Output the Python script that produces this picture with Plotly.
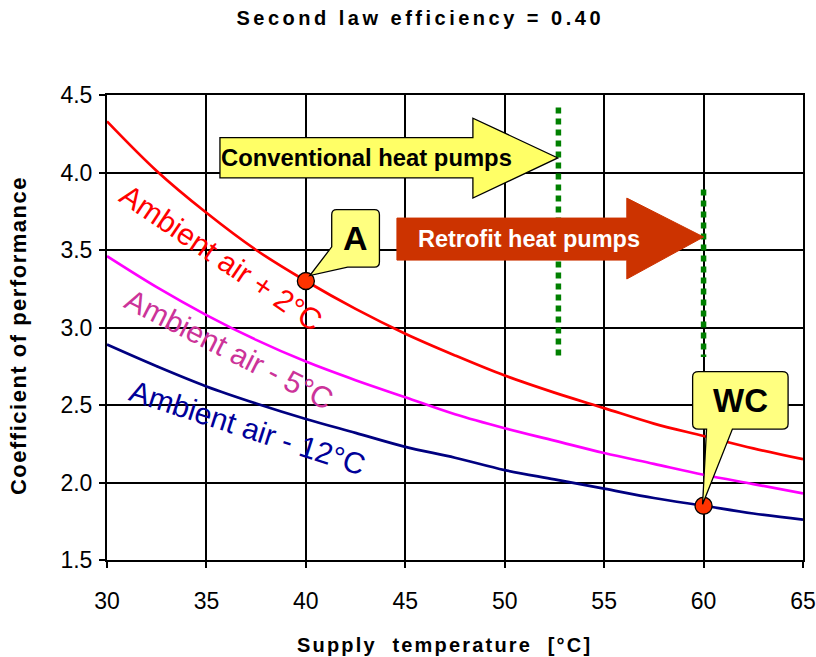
import plotly.graph_objects as go

# ---- data ----
supply_temp = [30, 32.5, 35, 37.5, 40, 42.5, 45, 47.5, 50, 52.5, 55, 57.5, 60, 62.5, 65]
cop_plus2 = [4.33, 4.01, 3.74, 3.50, 3.30, 3.12, 2.96, 2.82, 2.69, 2.58, 2.48, 2.38, 2.30, 2.22, 2.15]
cop_minus5 = [3.46, 3.26, 3.08, 2.92, 2.78, 2.66, 2.55, 2.44, 2.35, 2.27, 2.19, 2.12, 2.05, 1.99, 1.93]
cop_minus12 = [2.89, 2.75, 2.62, 2.51, 2.41, 2.32, 2.23, 2.16, 2.08, 2.02, 1.96, 1.90, 1.85, 1.80, 1.76]
series_names = ["Ambient air + 2°C", "Ambient air - 5°C", "Ambient air - 12°C"]
point_labels = ["A", "WC"]
point_x = [40, 60]
point_y = [3.30, 1.85]
x_ticks = [30, 35, 40, 45, 50, 55, 60, 65]
y_ticks = [1.5, 2.0, 2.5, 3.0, 3.5, 4.0, 4.5]
conventional_limit = 52.7
retrofit_limit = 60.0

line_colors = ["#FF0000", "#FF00FF", "#000080"]
label_colors = ["#FF0000", "#CC3399", "#000099"]

FONT = "Arial, Liberation Sans, sans-serif"

fig = go.Figure()
for ys, c, n in zip([cop_plus2, cop_minus5, cop_minus12], line_colors, series_names):
    fig.add_trace(go.Scatter(x=supply_temp, y=ys, mode="lines", name=n,
                             line=dict(color=c, width=2.7, shape="spline"),
                             showlegend=False, hoverinfo="skip"))

# green dotted limit lines
fig.add_trace(go.Scatter(x=[conventional_limit, conventional_limit], y=[4.42, 2.79], mode="lines",
                         line=dict(color="#008000", width=5.5, dash="6px,5px"), showlegend=False, hoverinfo="skip"))
fig.add_trace(go.Scatter(x=[retrofit_limit, retrofit_limit], y=[3.89, 2.81], mode="lines",
                         line=dict(color="#008000", width=5.5, dash="6px,5px"), showlegend=False, hoverinfo="skip"))

def poly(pts):
    return "M " + " L ".join(f"{x},{y}" for x, y in pts) + " Z"

shapes = []
# Yellow arrow: Conventional heat pumps
shapes.append(dict(type="path", xref="x", yref="y", layer="above",
                   path=poly([(35.68, 4.225), (48.4, 4.225), (48.4, 4.35), (52.67, 4.094),
                              (48.4, 3.835), (48.4, 3.965), (35.68, 3.965)]),
                   fillcolor="#FFFF66", line=dict(color="black", width=1.3)))
# Red arrow: Retrofit heat pumps
shapes.append(dict(type="path", xref="x", yref="y", layer="above",
                   path=poly([(44.58, 3.706), (56.14, 3.706), (56.14, 3.835), (60.0, 3.584),
                              (56.14, 3.313), (56.14, 3.435), (44.58, 3.435)]),
                   fillcolor="#CC3300", line=dict(color="#CC3300", width=1)))


def callout(x0, x1, y0, y1, rx, ry, tail, side):
    a, tip, b = tail
    p = [f"M {x0+rx},{y1}", f"L {x1-rx},{y1}", f"Q {x1},{y1} {x1},{y1-ry}",
         f"L {x1},{y0+ry}", f"Q {x1},{y0} {x1-rx},{y0}"]
    if side == "bottom":
        p += [f"L {b[0]},{b[1]}", f"L {tip[0]},{tip[1]}", f"L {a[0]},{a[1]}",
              f"L {x0+rx},{y0}", f"Q {x0},{y0} {x0},{y0+ry}"]
    else:
        p += [f"L {b[0]},{b[1]}", f"L {tip[0]},{tip[1]}", f"L {a[0]},{a[1]}"]
    p += [f"L {x0},{y1-ry}", f"Q {x0},{y1} {x0+rx},{y1}", "Z"]
    return " ".join(p)

shapes.append(dict(type="path", xref="x", yref="y", layer="above",
                   path=callout(41.3, 43.7, 3.39, 3.76, 0.25, 0.033,
                                ((41.3, 3.52), (40.2, 3.335), (42.1, 3.39)), "corner"),
                   fillcolor="#FFFF80", line=dict(color="black", width=1.3)))
shapes.append(dict(type="path", xref="x", yref="y", layer="above",
                   path=callout(59.45, 64.25, 2.345, 2.715, 0.3, 0.033,
                                ((60.15, 2.345), (59.95, 1.86), (61.45, 2.345)), "bottom"),
                   fillcolor="#FFFF80", line=dict(color="black", width=1.3)))

# highlighted points
fig.add_trace(go.Scatter(x=point_x, y=point_y, mode="markers",
                         marker=dict(size=17, color="#FF3300", line=dict(color="black", width=1.3)),
                         showlegend=False, hoverinfo="skip"))

annotations = [
    dict(x=42.5, y=3.575, text="<b>A</b>", showarrow=False, font=dict(size=34, color="black")),
    dict(x=61.85, y=2.53, text="<b>WC</b>", showarrow=False, font=dict(size=33, color="black")),
    dict(x=43.07, y=4.095, text="<b>Conventional heat pumps</b>", showarrow=False,
         font=dict(size=23.8, color="black")),
    dict(x=51.22, y=3.572, text="<b>Retrofit heat pumps</b>", showarrow=False,
         font=dict(size=23.5, color="white")),
    dict(x=35.73, y=3.45, text=series_names[0], textangle=34, showarrow=False,
         font=dict(size=30, color=label_colors[0])),
    dict(x=36.18, y=2.861, text=series_names[1], textangle=27, showarrow=False,
         font=dict(size=30, color=label_colors[1])),
    dict(x=37.04, y=2.358, text=series_names[2], textangle=18, showarrow=False,
         font=dict(size=30, color=label_colors[2])),
    # axis titles
    dict(xref="paper", yref="paper", x=0.485, y=-0.182, xanchor="center", yanchor="middle",
         text='<span style="letter-spacing:2.2px"><b>Supply  temperature  [°C]</b></span>',
         showarrow=False, font=dict(size=20, color="black")),
    dict(xref="paper", yref="paper", x=-0.127, y=0.483, xanchor="center", yanchor="middle",
         textangle=-90,
         text='<span style="letter-spacing:1.5px"><b>Coefficient of performance</b></span>',
         showarrow=False, font=dict(size=22, color="black")),
]

fig.update_layout(
    width=816, height=657,
    margin=dict(l=107, r=13, t=95, b=97, autoexpand=False),
    paper_bgcolor="white", plot_bgcolor="white",
    font=dict(family=FONT, color="black"),
    title=dict(text='<span style="letter-spacing:3.5px"><b>Second law efficiency = 0.40</b></span>',
               x=0.515, xanchor="center", y=0.9726, yanchor="middle", font=dict(size=20),
               automargin=False),
    shapes=shapes, annotations=annotations,
)
fig.update_xaxes(range=[30, 65], tickvals=x_ticks, showgrid=True, gridcolor="black", gridwidth=1.5,
                 showline=True, linecolor="black", linewidth=2, mirror=True,
                 ticks="outside", ticklen=6, tickcolor="black", tickwidth=1.5,
                 tickfont=dict(size=23), zeroline=False, automargin=False, ticklabelstandoff=13)
fig.update_yaxes(range=[1.5, 4.5], tickvals=y_ticks, tickformat=".1f", showgrid=True, gridcolor="black",
                 gridwidth=1.5, showline=True, linecolor="black", linewidth=2, mirror=True,
                 ticks="outside", ticklen=6, tickcolor="black", tickwidth=1.5,
                 tickfont=dict(size=23), zeroline=False, automargin=False, ticklabelstandoff=2)

# remove the default page margin so the 816x657 figure fills the window exactly
fig.write_html("out.html", config={"displayModeBar": False},
               post_script="document.body.style.margin='0px';")
